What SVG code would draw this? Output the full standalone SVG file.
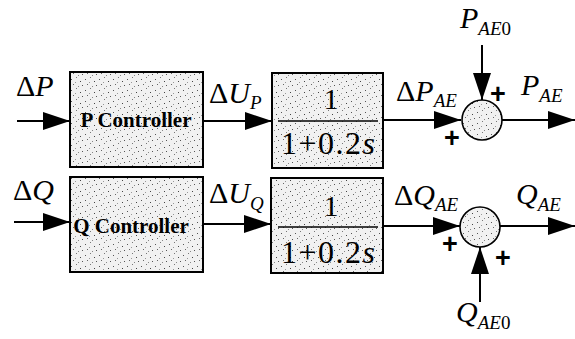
<svg xmlns="http://www.w3.org/2000/svg" width="575" height="339" viewBox="0 0 575 339">
<style>
.box{stroke:#000;stroke-width:2;fill:url(#stip)}
.sum{stroke:#000;stroke-width:1.6;fill:url(#stip)}
.wire{stroke:#000;stroke-width:2;fill:none}
.frac{stroke:#000;stroke-width:1.6}
.t{font-family:'Liberation Serif','DejaVu Serif',serif;fill:#000}
.lbl{font-size:30px}
.it{font-style:italic}
.sub{font-size:19px;font-style:italic}
.ctl{font-size:21px;text-anchor:middle;font-weight:bold}
.num{font-size:30px;text-anchor:middle}
.den{font-size:32px;text-anchor:middle}
.plus{font-family:'Liberation Sans',Arial,sans-serif;font-size:27px;font-weight:bold;text-anchor:middle}
</style>
<defs>
<pattern id="stip" width="14" height="11" patternUnits="userSpaceOnUse">
<rect width="14" height="11" fill="#f1f1f1"/>
<rect x="1" y="2" width="1" height="1" fill="#555"/>
<rect x="6" y="0" width="1" height="1" fill="#777"/>
<rect x="10" y="4" width="1" height="1" fill="#444"/>
<rect x="3" y="7" width="1" height="1" fill="#666"/>
<rect x="8" y="9" width="1" height="1" fill="#888"/>
<rect x="12" y="8" width="1" height="1" fill="#555"/>
<rect x="5" y="5" width="1" height="1" fill="#999"/>
</pattern>
<marker id="arr" markerUnits="userSpaceOnUse" markerWidth="28" markerHeight="22" refX="27" refY="11" orient="auto">
<path d="M0,2 L27,11 L0,20 Z" fill="#000"/>
</marker>
</defs>

<g id="connectors">
<line class="wire" x1="17" y1="121" x2="70" y2="121" marker-end="url(#arr)"/>
<line class="wire" x1="203" y1="121" x2="272" y2="121" marker-end="url(#arr)"/>
<line class="wire" x1="383" y1="120" x2="461" y2="120" marker-end="url(#arr)"/>
<line class="wire" x1="502" y1="120" x2="575" y2="120" marker-end="url(#arr)"/>
<line class="wire" x1="482" y1="45" x2="482" y2="100" marker-end="url(#arr)"/>
<line class="wire" x1="14" y1="222" x2="70" y2="222" marker-end="url(#arr)"/>
<line class="wire" x1="203" y1="224" x2="271" y2="224" marker-end="url(#arr)"/>
<line class="wire" x1="383" y1="226" x2="460" y2="226" marker-end="url(#arr)"/>
<line class="wire" x1="500" y1="226" x2="575" y2="226" marker-end="url(#arr)"/>
<line class="wire" x1="480" y1="302" x2="480" y2="247" marker-end="url(#arr)"/>
</g>

<g id="p-controller">
<rect class="box" x="70" y="72" width="133" height="95"/>
<text class="t ctl" x="136" y="127">P Controller</text>
</g>
<g id="q-controller">
<rect class="box" x="70" y="177" width="133" height="95"/>
<text class="t ctl" x="131" y="233">Q Controller</text>
</g>
<g id="tf-p">
<rect class="box" x="272" y="73" width="111" height="95"/>
<line class="frac" x1="278" y1="121" x2="378" y2="121"/>
<text class="t num" x="331" y="109">1</text>
<text class="t den" x="328" y="154" textLength="94" lengthAdjust="spacing">1+0.2<tspan class="it">s</tspan></text>
</g>
<g id="tf-q">
<rect class="box" x="271" y="178" width="112" height="95"/>
<line class="frac" x1="278" y1="227" x2="378" y2="227"/>
<text class="t num" x="331" y="216">1</text>
<text class="t den" x="328" y="263" textLength="94" lengthAdjust="spacing">1+0.2<tspan class="it">s</tspan></text>
</g>
<g id="sum-p">
<circle class="sum" cx="482" cy="120" r="20"/>
<text class="plus" x="498" y="103">+</text>
<text class="plus" x="452" y="147">+</text>
</g>
<g id="sum-q">
<circle class="sum" cx="480" cy="227" r="20"/>
<text class="plus" x="450" y="253">+</text>
<text class="plus" x="503" y="267">+</text>
</g>

<g id="labels">
<text class="t lbl" x="16" y="96">Δ<tspan class="it">P</tspan></text>
<text class="t lbl" x="209" y="103">Δ<tspan class="it">U</tspan><tspan class="sub" dy="6">P</tspan></text>
<text class="t lbl" x="396" y="101">Δ<tspan class="it">P</tspan><tspan class="sub" dy="6">AE</tspan></text>
<text class="t lbl it" x="521" y="95">P<tspan class="sub" dy="7">AE</tspan></text>
<text class="t lbl it" x="460" y="28">P<tspan class="sub" dy="7">AE</tspan><tspan font-style="normal" font-size="19">0</tspan></text>
<text class="t lbl" x="13" y="200">Δ<tspan class="it">Q</tspan></text>
<text class="t lbl" x="209" y="203">Δ<tspan class="it">U</tspan><tspan class="sub" dy="7">Q</tspan></text>
<text class="t lbl" x="394" y="205">Δ<tspan class="it">Q</tspan><tspan class="sub" dy="6">AE</tspan></text>
<text class="t lbl it" x="516" y="204">Q<tspan class="sub" dy="7">AE</tspan></text>
<text class="t lbl it" x="456" y="322">Q<tspan class="sub" dy="7">AE</tspan><tspan font-style="normal" font-size="19">0</tspan></text>
</g>
</svg>
